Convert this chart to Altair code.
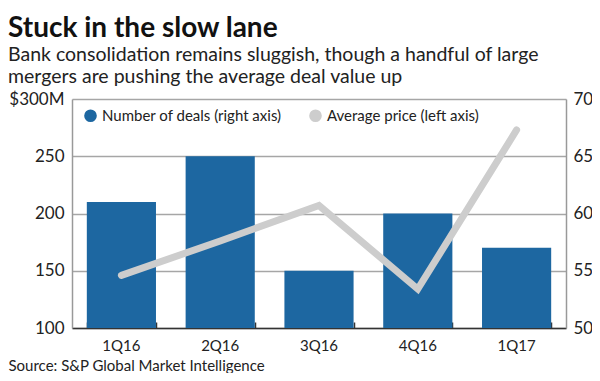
import altair as alt
import pandas as pd

quarters = ["1Q16", "2Q16", "3Q16", "4Q16", "1Q17"]
deals = [61, 65, 55, 60, 57]            # right axis
avg_price = [146, 176, 207, 134, 273]   # left axis, $M

legend_labels = ["Number of deals (right axis)", "Average price (left axis)"]
left_ticks = [100, 150, 200, 250, 300]
right_ticks = [50, 55, 60, 65, 70]

BLUE = "#1d67a1"
GREY = "#cdcdcd"
FONT = "Lato"
TOP = 91
H = 229

df = pd.DataFrame({"quarter": quarters, "deals": deals, "price": avg_price})

x_bottom = alt.X(
    "quarter:N", sort=quarters,
    scale=alt.Scale(paddingInner=0.3, paddingOuter=0.15),
    axis=alt.Axis(
        orient="bottom", title="Source: S&P Global Market Intelligence",
        titleAnchor="start", titleAlign="left", titleX=-64, titleY=42,
        titleBaseline="alphabetic", titleFontSize=15, titleFontWeight="normal",
        titleColor="#222", titleFont=FONT,
        labelAngle=0, labelFontSize=15, labelPadding=10, labelColor="#222",
        labelFont=FONT, ticks=False, domain=True, domainColor="#333",
        domainWidth=1.5,
    ),
)

bars = alt.Chart(df).mark_bar(color=BLUE).encode(
    x=x_bottom,
    y=alt.Y(
        "deals:Q",
        scale=alt.Scale(domain=[50, 70], nice=False, zero=False),
        axis=alt.Axis(
            orient="right", values=right_ticks, title=None, grid=False,
            ticks=False, domain=True, domainColor="#999", domainWidth=1.5,
            labelFontSize=17, labelPadding=7, labelColor="#222", labelFont=FONT,
        ),
    ),
    y2=alt.datum(50),
    color=alt.Color(
        "legend:N",
        scale=alt.Scale(domain=legend_labels, range=[BLUE, GREY]),
        legend=alt.Legend(
            title=None, orient="none", legendX=11, legendY=9,
            direction="horizontal", symbolType="circle", symbolSize=160,
            symbolStrokeWidth=0, labelFontSize=15, labelFont=FONT,
            labelColor="#222", columnPadding=26, labelOffset=4, padding=0,
            symbolOpacity=1, labelLimit=400,
        ),
    ),
).transform_calculate(legend="'" + legend_labels[0] + "'")

x_top = alt.X(
    "quarter:N", sort=quarters,
    axis=alt.Axis(
        orient="top", offset=-H, labels=False, title=None, domain=False,
        ticks=True, tickBand="extent", tickSize=6, tickColor="#333",
        tickWidth=1.5,
    ),
)

line = alt.Chart(df).mark_line(
    color=GREY, strokeWidth=7, strokeCap="round", strokeJoin="miter"
).encode(
    x=x_top,
    y=alt.Y(
        "price:Q",
        scale=alt.Scale(domain=[100, 300], nice=False, zero=False),
        axis=alt.Axis(
            orient="left", values=left_ticks, title=None, grid=True,
            gridColor="#a6a6a6", gridWidth=1.3, ticks=False, domain=True,
            domainColor="#999", domainWidth=1.5, labelFontSize=17,
            labelPadding=8, labelColor="#222", labelFont=FONT,
            labelExpr="datum.value == 300 ? '$300M' : datum.label",
        ),
    ),
)

chart = alt.layer(bars, line).resolve_scale(y="independent").properties(
    width=494, height=H,
    autosize=alt.AutoSizeParams(type="none"),
    padding={"left": 64, "top": TOP, "right": 26, "bottom": 365 - TOP - H},
    title=alt.Title(
        "Stuck in the slow lane",
        subtitle=["Bank consolidation remains sluggish, though a handful of large",
                  "mergers are pushing the average deal value up"],
        anchor="start", frame="group", dx=-64, offset=4,
        font=FONT, fontSize=28, fontWeight="bold", color="#111",
        subtitleFont=FONT, subtitleFontSize=19.5, subtitleColor="#222",
        subtitleLineHeight=22, subtitlePadding=3,
    ),
).configure_view(stroke=None)

chart.save("out.html", embed_options={"renderer": "svg", "actions": False})
